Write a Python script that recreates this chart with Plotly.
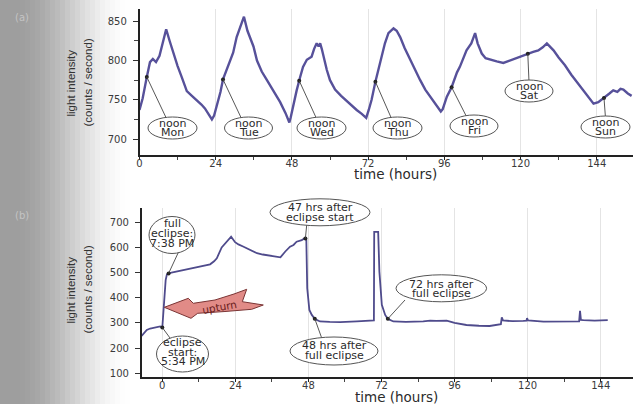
import numpy as np
import plotly.graph_objects as go

# ---------------- data ----------------
top_hours = [0, 1.0, 2.3, 3.3, 4.2, 5.2, 6.3, 7.5, 8.4, 9.5, 10.7, 12.0, 13.3, 14.9, 16.5, 18.0,
             19.5, 20.6, 22.0, 22.8, 23.5, 24.3, 25.5, 26.3, 26.9, 28.5, 29.5, 30.6, 31.8, 32.9,
             34.0, 35.9, 37.0, 38.5, 40.0, 41.1, 42.8, 44.3, 46.0, 47.2, 47.6, 48.5, 49.5, 50.6,
             51.5, 52.7, 54.2, 55.0, 55.8, 56.4, 56.9, 57.4, 58.2, 59.0, 60.0, 61.6, 63.5, 65.3,
             67.0, 68.4, 70.0, 71.4, 72.2, 73.1, 74.3, 75.3, 76.3, 77.3, 78.4, 80.0, 81.0, 82.1,
             83.5, 85.2, 86.8, 88.4, 90.0, 91.5, 93.2, 94.9, 95.5, 96.8, 98.3, 100.0, 100.9,
             102.0, 103.0, 104.5, 105.7, 106.5, 107.8, 109.0, 110.4, 112.5, 114.6, 116.5, 118.8,
             120.5, 122.5, 124.0, 125.6, 127.0, 128.3, 129.2, 130.4, 132.0, 134.0, 136.0, 138.2,
             140.0, 141.9, 143.0, 144.5, 146.6, 148.0, 149.2, 150.5, 151.5, 152.4, 153.8, 155.0]
top_counts = [737, 752, 779, 798, 802, 798, 806, 826, 840, 825, 809, 793, 779, 761, 755, 750,
              744, 739, 731, 725, 730, 741, 760, 776, 782, 800, 810, 830, 845, 856,
              838, 818, 800, 786, 776, 769, 758, 747, 733, 721, 727, 745, 762, 779,
              792, 801, 805, 815, 822, 818, 822, 815, 800, 788, 775, 763, 755, 748,
              742, 737, 732, 727, 737, 750, 773, 790, 805, 822, 835, 841, 838, 830,
              816, 801, 787, 775, 763, 754, 744, 735, 738, 754, 766, 785, 792,
              803, 813, 822, 835, 822, 809, 803, 801, 799, 797, 800, 803,
              806, 809, 811, 813, 817, 822, 818, 813, 804, 794, 782, 770,
              760, 750, 745, 747, 753, 758, 762, 760, 764, 763, 758, 755]

noon_hours = [2.3, 26.3, 50.3, 74.3, 98.3, 122.3, 146.3]
noon_days = ["Mon", "Tue", "Wed", "Thu", "Fri", "Sat", "Sun"]

bot_hours = [-6.8, -6.0, -5.1, -4.0, -2.9, -1.5, -0.7, 0.0, 0.35, 0.7, 1.1, 1.5, 2.07, 3.0, 4.7,
             7.0, 9.1, 12.0, 15.7, 17.0, 17.9, 19.5, 21.1, 22.0, 22.6, 23.9, 25.0, 26.7, 29.0,
             31.1, 33.0, 35.5, 38.8, 40.4, 41.95, 43.1, 44.1, 45.8, 46.9, 47.3, 47.6, 48.3, 49.1,
             50.2, 51.8, 55.0, 58.4, 63.9, 67.0, 69.5, 69.6, 70.9, 71.3, 72.1, 73.2, 74.1, 75.9,
             80.0, 85.7, 88.0, 90.0, 93.4, 96.0, 99.9, 104.0, 107.5, 111.2, 111.5, 111.9, 115.0,
             118.6, 119.6, 119.8, 120.1, 125.2, 130.0, 136.1, 136.9, 137.2, 137.5, 138.3, 142.0,
             146.3]
bot_counts = [249, 262, 272, 278, 281, 285, 286, 282, 340, 400, 470, 492, 497, 500, 504,
              510, 517, 522, 533, 545, 557, 600, 623, 632, 643, 621, 612, 603, 590,
              577, 572, 568, 561, 584, 603, 610, 623, 629, 638, 630, 438, 352, 332,
              315, 306, 304, 303, 306, 308, 310, 662, 662, 504, 372, 332, 316, 306,
              304, 306, 309, 308, 309, 300, 292, 289, 288, 295, 322, 310, 307,
              308, 309, 319, 310, 305, 306, 305, 306, 348, 312, 311, 309,
              311]

event_hours = [0.0, 2.07, 47.0, 50.07, 74.07]
event_labels = [["eclipse", "start:", "5:34 PM"], ["full", "eclipse:", "7:38 PM"],
                ["47 hrs after", "eclipse start"], ["48 hrs after", "full eclipse"],
                ["72 hrs after", "full eclipse"]]

top_ticks = [0, 24, 48, 72, 96, 120, 144]
top_yticks = [700, 750, 800, 850]
bot_yticks = [100, 200, 300, 400, 500, 600, 700]

# ---------------- geometry (pixels in the 633x404 canvas) ----------------
W, H = 633, 404
TOP = dict(px=(139.5, 633.0), xr=(0.0, 155.43), py=(155.0, 9.3), yr=(679.6, 865.4))
BOT = dict(px=(141.7, 633.0), xr=(-6.77, 154.6), py=(377.0, 207.7), yr=(85.3, 758.0))


def paper(x, y):
    return x / W, 1 - y / H


def to_px(ax, h, v):
    (p0, p1), (r0, r1) = ax["px"], ax["xr"]
    (q0, q1), (s0, s1) = ax["py"], ax["yr"]
    return p0 + (h - r0) / (r1 - r0) * (p1 - p0), q0 + (v - s0) / (s1 - s0) * (q1 - q0)


def dom_x(ax):
    return [ax["px"][0] / W, ax["px"][1] / W]


def dom_y(ax):
    return [1 - ax["py"][0] / H, 1 - ax["py"][1] / H]


LINE = "#57519a"
INK = "#2b2b2b"
TICKF = dict(family="DejaVu Sans", size=10, color="#3a3a3a")

fig = go.Figure()
fig.add_trace(go.Scatter(x=top_hours, y=top_counts, mode="lines", xaxis="x", yaxis="y",
                         line=dict(color=LINE, width=2.4), hoverinfo="skip"))
fig.add_trace(go.Scatter(x=bot_hours, y=bot_counts, mode="lines", xaxis="x2", yaxis="y2",
                         line=dict(color="#4f4b8c", width=1.8), hoverinfo="skip"))

noon_vals = np.interp(noon_hours, top_hours, top_counts)
event_vals = np.interp(event_hours, bot_hours, bot_counts)
fig.add_trace(go.Scatter(x=noon_hours, y=noon_vals, mode="markers", xaxis="x", yaxis="y",
                         marker=dict(color="#222", size=4), hoverinfo="skip"))
fig.add_trace(go.Scatter(x=event_hours, y=event_vals, mode="markers", xaxis="x2", yaxis="y2",
                         marker=dict(color="#222", size=4), hoverinfo="skip"))

shapes = []
annotations = []


def text_at(cx, cy, t, size, color=INK, family="DejaVu Sans", angle=0):
    x, y = paper(cx, cy)
    annotations.append(dict(x=x, y=y, xref="paper", yref="paper", text=t, showarrow=False,
                            textangle=angle, xanchor="center", yanchor="middle", borderpad=0,
                            font=dict(family=family, size=size, color=color)))


# page shadow on the left
for i in range(30):
    x0 = 5 * i
    s = min(1.0, max(0.0, (x0 + 2.5 - 15) / 115))
    s = s * s * (3 - 2 * s)
    g = int(158 + 97 * s)
    shapes.append(dict(type="rect", xref="paper", yref="paper", x0=x0 / W, x1=(x0 + 5.5) / W,
                       y0=0, y1=1, fillcolor=f"rgb({g},{g},{g})", line=dict(width=0),
                       layer="below"))

# label ellipses: (center x, center y, half width, half height, leader end x, leader end y, text y)
top_boxes = [(172.5, 128, 24.5, 11, 166.7, 119, 128), (248.5, 128, 24, 11, 241.7, 119, 128),
             (321.5, 128, 24.5, 11, 316.7, 119, 128), (397.5, 128, 24.5, 11, 391.7, 119, 128),
             (474, 126, 24, 11, 466.7, 117, 126), (529, 91, 24, 11, 529, 82, 91),
             (605.5, 127, 24.5, 11, 605.5, 118, 127)]
bot_boxes = [(182.5, 354, 26, 18, 170, 338, 352), (172, 235, 23, 18.5, 179, 251, 233.5),
             (320, 212.3, 50, 13.5, 306.7, 225, 212.3), (334, 351, 44, 14, 321.7, 338, 350.5),
             (441.3, 288.3, 45.3, 13.5, 405, 300, 289)]

label_sets = [
    (TOP, noon_hours, noon_vals, top_boxes, [["noon", d] for d in noon_days], 11, 9.0),
    (BOT, event_hours, event_vals, bot_boxes, event_labels, 11, 9.8),
]
for ax, hs, vs, boxes, texts, fs, sp in label_sets:
    for h, v, (cx, cy, hw, hh, ex, ey, ty) in zip(hs, vs, boxes):
        dx, dy = to_px(ax, h, v)
        x0, y0 = paper(dx, dy)
        x1, y1 = paper(ex, ey)
        shapes.append(dict(type="line", xref="paper", yref="paper", x0=x0, y0=y0, x1=x1, y1=y1,
                           line=dict(color="#444", width=0.9), layer="above"))
    for (cx, cy, hw, hh, ex, ey, ty), lines in zip(boxes, texts):
        a0, b0 = paper(cx - hw, cy + hh)
        a1, b1 = paper(cx + hw, cy - hh)
        shapes.append(dict(type="circle", xref="paper", yref="paper", x0=a0, y0=b0, x1=a1, y1=b1,
                           fillcolor="white", line=dict(color="#555", width=1), layer="above"))
        n = len(lines)
        for k, t in enumerate(lines):
            text_at(cx, ty + (k - (n - 1) / 2) * sp, t, fs)

# "upturn" block arrow
arrow_pts = [(164.3, 307.3), (188.3, 298.3), (193.3, 303.3), (215, 300), (234, 294),
             (246.7, 289.3), (242.3, 301.7), (263.3, 305), (251.7, 309.3), (225, 311.5),
             (197.7, 313.3), (191, 318.3)]
path = "M " + " L ".join("%.5f,%.5f" % paper(x, y) for x, y in arrow_pts) + " Z"
shapes.append(dict(type="path", xref="paper", yref="paper", path=path, fillcolor="#e18b87",
                   line=dict(color="#7a3434", width=1), layer="above"))
text_at(219, 306.5, "upturn", 10.5, color="#6a1c1c", angle=-10)

# axis titles
for cx, cy in [(395, 173.5), (396, 397)]:
    text_at(cx, cy, "time (hours)", 13.5)
for cy in [83, 290]:
    text_at(70.5, cy, "light intensity", 11.5, color="#333", family="Liberation Sans", angle=-90)
    text_at(87.5, cy, "(counts / second)", 11.5, color="#333", family="Liberation Sans",
            angle=-90)
text_at(22, 17, "(a)", 10, color="#c4c4c4")
text_at(22, 215, "(b)", 10, color="#c4c4c4")

common_x = dict(showline=True, linecolor="#222", linewidth=1.5, ticks="outside", ticklen=3,
                tickcolor="#222", tickfont=TICKF, showgrid=True, gridcolor="#e4e4e4",
                gridwidth=1, zeroline=False, automargin=False, mirror=False,
                ticklabelstandoff=-5,
                minor=dict(dtick=12, ticks="outside", ticklen=3, tickcolor="#444", showgrid=False))
common_y = dict(showline=True, linecolor="#222", linewidth=1.5, ticks="outside", ticklen=5,
                tickcolor="#333", tickfont=TICKF, showgrid=False, zeroline=False,
                automargin=False, ticklabelstandoff=4)

fig.update_layout(
    width=W, height=H, margin=dict(l=0, r=0, t=0, b=0, pad=0),
    paper_bgcolor="white", plot_bgcolor="rgba(0,0,0,0)", showlegend=False,
    xaxis=dict(domain=dom_x(TOP), range=list(TOP["xr"]), anchor="y", tickvals=top_ticks,
               **common_x),
    yaxis=dict(domain=dom_y(TOP), range=list(TOP["yr"]), anchor="x", tickvals=top_yticks,
               minor=dict(dtick=25, ticks="outside", ticklen=4, tickcolor="#444"), **common_y),
    xaxis2=dict(domain=dom_x(BOT), range=list(BOT["xr"]), anchor="y2", tickvals=top_ticks,
                **common_x),
    yaxis2=dict(domain=dom_y(BOT), range=list(BOT["yr"]), anchor="x2", tickvals=bot_yticks,
                **common_y),
    shapes=shapes, annotations=annotations,
)

fig.write_html("out.html", config={"displayModeBar": False},
               post_script="document.body.style.margin='0px';"
                           "document.body.style.overflow='hidden';")
